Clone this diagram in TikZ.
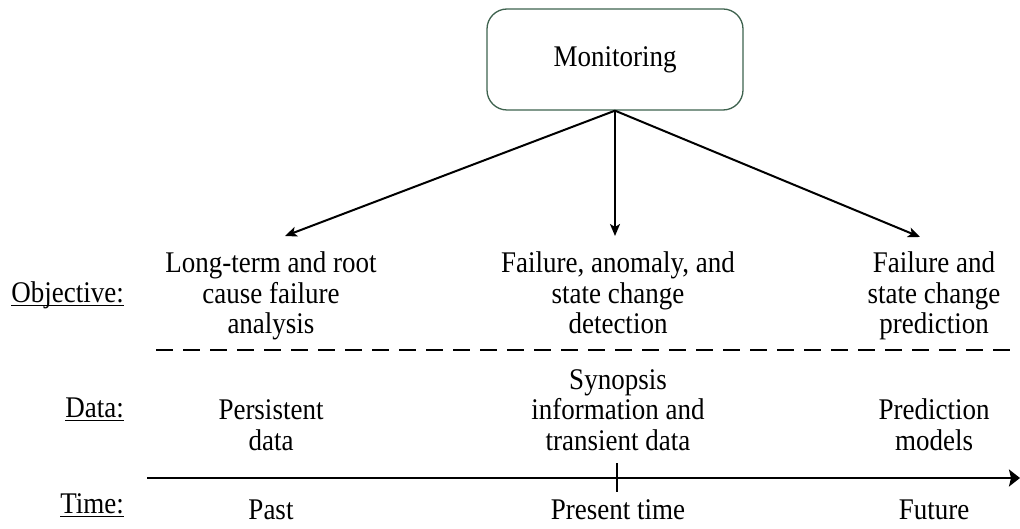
\documentclass[tikz,border=0pt]{standalone}
\usepackage{fontspec}
\setmainfont{Liberation Serif}[FakeStretch=0.9]
\usetikzlibrary{arrows.meta}
\definecolor{boxline}{RGB}{62,98,78}
% underlined row label
\newcommand{\rowlabel}[1]{\setbox0\hbox{#1}\rlap{\rule[-4pt]{\wd0}{1.4pt}}\box0}
\begin{document}
\begin{tikzpicture}[x=1pt,y=-1pt,
  % multi-line texts are placed by the baseline of their last line
  txt/.style={font=\fontsize{30}{30.5}\selectfont, align=center, inner sep=0pt, anchor=base},
  lbl/.style={font=\fontsize{30}{30.5}\selectfont, inner sep=0pt, anchor=base east},
  flow/.style={line width=2pt, -{Stealth[length=12pt,width=10pt,inset=3pt]}},
  axis/.style={line width=2pt, -{Stealth[length=11pt,width=17pt,inset=2pt]}},
  sep/.style={line width=2.7pt, dash pattern=on 17pt off 10pt},
]
\useasboundingbox (0,0) rectangle (1020,529);

% top box
\node[txt, anchor=center, draw=boxline, line width=1.3pt, rounded corners=20pt,
      minimum width=256pt, minimum height=101pt] (mon) at (615,59.5) {Monitoring};

% objectives
\node[txt] (o1) at (271,334) {Long-term and root\\cause failure\\analysis};
\node[txt] (o2) at (618,334) {Failure, anomaly, and\\state change\\detection};
\node[txt] (o3) at (934,334) {Failure and\\state change\\prediction};

% arrows from the box
\coordinate (aL) at (285,236);
\coordinate (aM) at (615,236);
\coordinate (aR) at (920,237);
\draw[flow] (mon.south) -- (aL);
\draw[flow] (mon.south) -- (aM);
\draw[flow] (mon.south) -- (aR);

% separator
\coordinate (sl) at (156,350);
\coordinate (sr) at (1012,350);
\draw[sep] (sl) -- (sr);

% data
\node[txt] (d1) at (271,450) {Persistent\\data};
\node[txt] (d2) at (618,450) {Synopsis\\information and\\transient data};
\node[txt] (d3) at (934,450) {Prediction\\models};

% time axis
\coordinate (t0) at (147,478);
\coordinate (t1) at (1020,478);
\coordinate (now) at (617,478);
\draw[axis] (t0) -- (t1);
\draw[line width=2pt] ([yshift=15pt]now) -- ([yshift=-14pt]now);

\node[txt] (past) at (271,519) {Past};
\node[txt] (pres) at (618,519) {Present time};
\node[txt] (fut) at (934,519) {Future};

% row labels
\node[lbl] (lo) at (124,302) {\rowlabel{Objective:}};
\node[lbl] (ld) at (124,417) {\rowlabel{Data:}};
\node[lbl] (lt) at (124,513) {\rowlabel{Time:}};
\end{tikzpicture}
\end{document}
